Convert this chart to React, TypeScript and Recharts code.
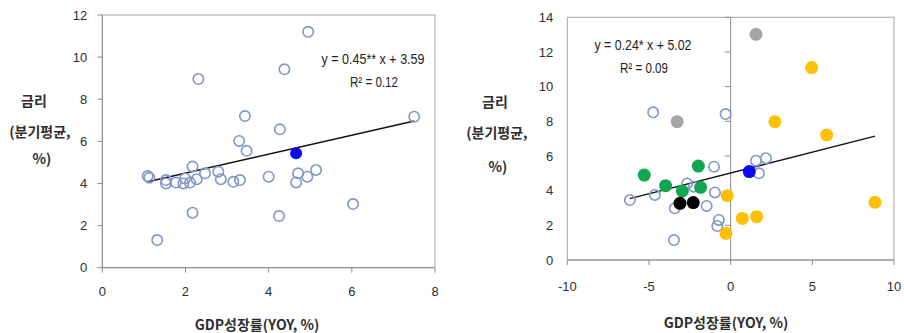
import React from 'react';
import {
  ScatterChart,
  Scatter,
  XAxis,
  YAxis,
  ReferenceLine,
  ReferenceArea,
} from 'recharts';

// ---- Left panel: all quarters ----
const leftOpenX = [4.95, 2.31, 4.38, 7.5, 3.43, 4.27, 3.29, 3.47, 1.09, 1.13, 1.53, 1.53, 1.77, 1.95, 1.99, 2.11, 2.17, 2.27, 2.47, 2.79, 2.85, 3.15, 3.31, 4.0, 4.71, 4.66, 4.93, 5.14, 6.03, 2.17, 4.25, 1.32];
const leftOpenY = [11.2, 8.96, 9.42, 7.17, 7.2, 6.57, 6.02, 5.55, 4.35, 4.27, 4.16, 4.0, 4.04, 4.0, 4.24, 4.04, 4.8, 4.2, 4.48, 4.56, 4.2, 4.08, 4.16, 4.32, 4.48, 4.05, 4.32, 4.64, 3.02, 2.61, 2.45, 1.31];
const leftBlueX = [4.66];
const leftBlueY = [5.43];
const leftSlope = 0.45;
const leftIntercept = 3.59;
const leftFitRange = [1.09, 7.5];
const leftXTicks = [0, 2, 4, 6, 8];
const leftYTicks = [0, 2, 4, 6, 8, 10, 12];

// ---- Right panel: grouped quarters ----
const rightOpenX = [-4.74, -0.31, 1.55, 2.16, 1.73, -1.02, -6.17, -4.64, -2.66, -2.25, -0.96, -3.42, -1.47, -0.72, -0.82, -3.47];
const rightOpenY = [8.52, 8.42, 5.73, 5.87, 5.0, 5.38, 3.46, 3.75, 4.42, 4.23, 3.9, 2.98, 3.12, 2.31, 1.96, 1.15];
const rightGrayX = [1.55, -3.27];
const rightGrayY = [13.02, 7.98];
const rightYellowX = [4.96, 2.71, 5.88, 8.84, -0.21, -0.29, 0.71, 1.59];
const rightYellowY = [11.1, 7.98, 7.21, 3.33, 3.71, 1.54, 2.4, 2.5];
const rightGreenX = [-5.29, -1.98, -3.98, -2.96, -1.84];
const rightGreenY = [4.9, 5.42, 4.29, 3.98, 4.19];
const rightBlackX = [-3.1, -2.29];
const rightBlackY = [3.27, 3.31];
const rightBlueX = [1.14];
const rightBlueY = [5.1];
const rightSlope = 0.24;
const rightIntercept = 5.02;
const rightFitRange = [-6.17, 8.84];
const rightXTicks = [-10, -5, 0, 5, 10];
const rightYTicks = [0, 2, 4, 6, 8, 10, 12, 14];

const zip = (xs: number[], ys: number[]) => xs.map((x, i) => ({ x, y: ys[i] }));

const AXIS = '#8c8c8c';
const BORDER = '#a6a6a6';
const OPEN = '#8196c6';
const TEXT = '#2e2e2e';
const NUM_FONT = "'Liberation Sans', 'Noto Sans', sans-serif";
const KR_FONT = "'Noto Sans CJK KR', 'Noto Sans', sans-serif";

const openDot = (r: number) => (p: any) =>
  <circle cx={p.cx} cy={p.cy} r={r} fill="none" stroke={OPEN} strokeWidth={1.6} />;
const solidDot = (color: string, r: number) => (p: any) =>
  <circle cx={p.cx} cy={p.cy} r={r} fill={color} stroke="none" />;

const tickStyle = { fontSize: 13, fill: TEXT, fontFamily: NUM_FONT };

const fitSegment = (slope: number, intercept: number, range: number[]) => [
  { x: range[0], y: slope * range[0] + intercept },
  { x: range[1], y: slope * range[1] + intercept },
];

function LeftPanel() {
  return (
    <ScatterChart width={450} height={333} margin={{ top: 15, right: 15, bottom: 35.3, left: 62.3 }}>
      <XAxis type="number" dataKey="x" domain={[0, 8]} ticks={leftXTicks} height={30}
        stroke={AXIS} tickSize={5} tickMargin={14} tick={tickStyle} />
      <YAxis type="number" dataKey="y" domain={[0, 12]} ticks={leftYTicks} width={40}
        stroke={AXIS} tickSize={5} tickMargin={10} tick={tickStyle} />
      <ReferenceArea x1={0} x2={8} y1={0} y2={12} fill="none" fillOpacity={0} stroke={BORDER} strokeWidth={1} />
      <Scatter data={zip(leftOpenX, leftOpenY)} shape={openDot(5.2)} isAnimationActive={false} />
      <Scatter data={zip(leftBlueX, leftBlueY)} shape={solidDot('#0c0cf0', 6)} isAnimationActive={false} />
      <ReferenceLine segment={fitSegment(leftSlope, leftIntercept, leftFitRange)} stroke="#111" strokeWidth={1.4} ifOverflow="visible" />
    </ScatterChart>
  );
}

function RightPanel() {
  return (
    <ScatterChart width={454} height={333} margin={{ top: 17.3, right: 10, bottom: 43, left: 77.3 }}>
      <XAxis type="number" dataKey="x" domain={[-10, 10]} ticks={rightXTicks} height={30}
        stroke={AXIS} tickSize={5} tickMargin={17} tick={tickStyle} />
      <YAxis type="number" dataKey="y" domain={[0, 14]} ticks={rightYTicks} width={40}
        axisLine={false} tickLine={false} tickSize={0} tickMargin={14} tick={tickStyle} />
      <ReferenceArea x1={-10} x2={10} y1={0} y2={14} fill="none" fillOpacity={0} stroke={BORDER} strokeWidth={1} />
      <ReferenceLine x={0} stroke={AXIS} strokeWidth={1} />
      {rightYTicks.filter((t) => t > 0).map((t) => (
        <ReferenceLine key={t} segment={[{ x: -0.35, y: t }, { x: 0, y: t }]} stroke={AXIS} strokeWidth={1} />
      ))}
      <Scatter data={zip(rightOpenX, rightOpenY)} shape={openDot(5.2)} isAnimationActive={false} />
      <Scatter data={zip(rightGrayX, rightGrayY)} shape={solidDot('#a5a5a5', 6.5)} isAnimationActive={false} />
      <Scatter data={zip(rightYellowX, rightYellowY)} shape={solidDot('#ffc000', 6.5)} isAnimationActive={false} />
      <Scatter data={zip(rightGreenX, rightGreenY)} shape={solidDot('#10a550', 6.5)} isAnimationActive={false} />
      <Scatter data={zip(rightBlackX, rightBlackY)} shape={solidDot('#000000', 6.5)} isAnimationActive={false} />
      <Scatter data={zip(rightBlueX, rightBlueY)} shape={solidDot('#0c0cf0', 6.5)} isAnimationActive={false} />
      <ReferenceLine segment={fitSegment(rightSlope, rightIntercept, rightFitRange)} stroke="#111" strokeWidth={1.4} ifOverflow="visible" />
    </ScatterChart>
  );
}

// Axis titles and regression annotations drawn over both panels
function Annotations() {
  const kr = { fontFamily: KR_FONT, fontSize: 14, fontWeight: 700, fill: TEXT } as const;
  const eq = { fontFamily: NUM_FONT, fontSize: 15, fill: '#222', lengthAdjust: 'spacingAndGlyphs' } as const;
  return (
    <svg width={904} height={333} style={{ position: 'absolute', left: 0, top: 0, pointerEvents: 'none' }}>
      <g textAnchor="middle" dominantBaseline="central">
        <text x={34} y={100} {...kr}>금리</text>
        <text x={40} y={131} {...kr}>(분기평균,</text>
        <text x={42} y={158} {...kr}>%)</text>
        <text x={257} y={324} {...kr}>GDP성장률(YOY, %)</text>

        <text x={495} y={101} {...kr}>금리</text>
        <text x={497} y={132} {...kr}>(분기평균,</text>
        <text x={498} y={166} {...kr}>%)</text>
        <text x={726} y={322} {...kr}>GDP성장률(YOY, %)</text>

        <text x={373} y={58} textLength={103} {...eq}>y = 0.45** x + 3.59</text>
        <text x={374} y={81} textLength={48} {...eq}>R² = 0.12</text>
        <text x={643} y={44} textLength={97} {...eq}>y = 0.24* x + 5.02</text>
        <text x={644} y={67} textLength={48} {...eq}>R² = 0.09</text>
      </g>
    </svg>
  );
}

export default function App() {
  return (
    <div style={{ position: 'absolute', left: 0, top: 0, width: 904, height: 333, background: '#fff' }}>
      <div style={{ position: 'absolute', left: 0, top: 0 }}>
        <LeftPanel />
      </div>
      <div style={{ position: 'absolute', left: 450, top: 0 }}>
        <RightPanel />
      </div>
      <Annotations />
    </div>
  );
}
